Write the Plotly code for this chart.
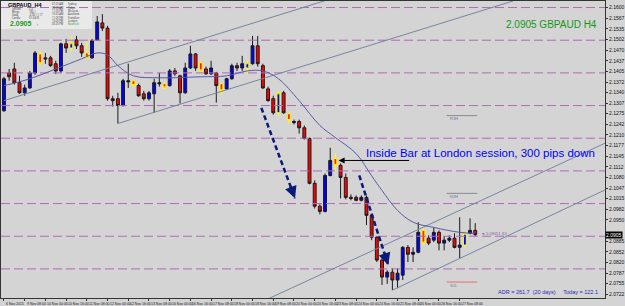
import plotly.graph_objects as go

# ---------------- data ----------------
bar_index = list(range(92))
open_ = [2.1284,2.1400,2.1412,2.1370,2.1339,2.1354,2.1400,2.1458,2.1446,2.1446,
 2.1428,2.1406,2.1489,2.1476,2.1501,2.1483,2.1461,2.1446,2.1501,2.1553,
 2.1537,2.1321,2.1321,2.1300,2.1376,2.1376,2.1361,2.1336,2.1321,2.1336,
 2.1370,2.1367,2.1361,2.1406,2.1391,2.1339,2.1415,2.1458,2.1431,2.1412,
 2.1397,2.1400,2.1367,2.1351,2.1382,2.1422,2.1415,2.1415,2.1428,2.1483,
 2.1422,2.1351,2.1321,2.1278,2.1339,2.1275,2.1248,2.1251,2.1232,2.1199,
 2.1062,2.0992,2.0976,2.1086,2.1138,2.1117,2.1080,2.1019,2.1019,2.1010,
 2.1019,2.0964,2.0897,2.0827,2.0775,2.0790,2.0766,2.0781,2.0866,2.0845,
 2.0851,2.0918,2.0894,2.0888,2.0912,2.0879,2.0888,2.0894,2.0866,2.0873,
 2.0909,2.0918]
high = [2.1388,2.1412,2.1431,2.1391,2.1364,2.1406,2.1467,2.1467,2.1461,2.1452,
 2.1437,2.1492,2.1504,2.1513,2.1513,2.1492,2.1498,2.1504,2.1574,2.1580,
 2.1544,2.1330,2.1339,2.1382,2.1428,2.1379,2.1367,2.1345,2.1345,2.1382,
 2.1400,2.1370,2.1412,2.1415,2.1394,2.1431,2.1483,2.1461,2.1437,2.1419,
 2.1437,2.1403,2.1370,2.1385,2.1428,2.1431,2.1452,2.1437,2.1513,2.1513,
 2.1428,2.1358,2.1330,2.1345,2.1345,2.1278,2.1257,2.1257,2.1239,2.1202,
 2.1071,2.0998,2.1092,2.1171,2.1153,2.1123,2.1092,2.1028,2.1025,2.1025,
 2.1025,2.0967,2.0900,2.0833,2.0796,2.0802,2.0802,2.0870,2.0873,2.0866,
 2.0943,2.0927,2.0903,2.0927,2.0918,2.0900,2.0903,2.0909,2.0958,2.0912,
 2.0955,2.0940]
low = [2.1281,2.1376,2.1364,2.1336,2.1330,2.1351,2.1394,2.1422,2.1428,2.1419,
 2.1397,2.1400,2.1461,2.1467,2.1473,2.1449,2.1443,2.1443,2.1498,2.1528,
 2.1315,2.1297,2.1245,2.1297,2.1354,2.1358,2.1327,2.1315,2.1315,2.1278,
 2.1358,2.1351,2.1358,2.1391,2.1306,2.1336,2.1412,2.1406,2.1397,2.1394,
 2.1394,2.1309,2.1333,2.1348,2.1379,2.1406,2.1406,2.1397,2.1425,2.1419,
 2.1351,2.1312,2.1272,2.1269,2.1275,2.1245,2.1242,2.1214,2.1196,2.1059,
 2.0985,2.0967,2.0973,2.1083,2.1101,2.1016,2.1013,2.1010,2.1007,2.1007,
 2.0934,2.0888,2.0821,2.0751,2.0754,2.0735,2.0741,2.0766,2.0821,2.0821,
 2.0848,2.0873,2.0873,2.0882,2.0857,2.0857,2.0882,2.0863,2.0833,2.0866,
 2.0906,2.0900]
close = [2.1382,2.1388,2.1370,2.1339,2.1354,2.1400,2.1461,2.1428,2.1443,2.1422,
 2.1406,2.1489,2.1476,2.1492,2.1483,2.1461,2.1446,2.1498,2.1556,2.1537,
 2.1321,2.1315,2.1300,2.1376,2.1373,2.1361,2.1330,2.1321,2.1339,2.1370,
 2.1367,2.1354,2.1406,2.1397,2.1339,2.1415,2.1458,2.1415,2.1406,2.1397,
 2.1415,2.1361,2.1345,2.1382,2.1422,2.1415,2.1428,2.1431,2.1483,2.1428,
 2.1354,2.1315,2.1278,2.1339,2.1278,2.1254,2.1251,2.1232,2.1199,2.1062,
 2.0992,2.0976,2.1086,2.1132,2.1117,2.1080,2.1019,2.1016,2.1010,2.1019,
 2.0964,2.0897,2.0827,2.0775,2.0790,2.0766,2.0787,2.0866,2.0845,2.0851,
 2.0912,2.0879,2.0879,2.0912,2.0879,2.0888,2.0894,2.0866,2.0873,2.0909,
 2.0918,2.0905]
inside_bars = [7, 13, 16, 25, 31, 38, 42, 47, 53, 55, 64, 81, 89]

ma_index = [0, 5, 10, 15, 18, 20, 22, 25, 30, 38, 43, 47, 50, 53, 57, 61, 64, 68, 71, 73, 76, 79, 83, 88, 91]
ma_value = [2.1361, 2.1382, 2.1412, 2.1443, 2.1461, 2.1455, 2.1422, 2.1391, 2.1385, 2.1388, 2.1391, 2.1406,
            2.1406, 2.1382, 2.1315, 2.1239, 2.1202, 2.1153, 2.1085, 2.1040, 2.0979, 2.0943, 2.0927, 2.0912, 2.0909]

round_levels = [2.08, 2.09, 2.10, 2.11, 2.12, 2.13, 2.14, 2.15, 2.16]

# trend lines: (start index, start price, end index, end price)
trend_lines = [(0, 2.1315, 62, 2.1621),
               (22, 2.1245, 98.3, 2.1620),
               (51.1, 2.0709, 116.1, 2.1185),
               (75, 2.0735, 116.1, 2.1042)]
# dashed arrows: (start index, start price, end index, end price)
move_arrows = [(49.7, 2.1293, 56.2, 2.1016),
               (68.6, 2.1086, 74.2, 2.0812)]

x_tick_index = list(range(0, 89, 4))
x_tick_text = ["6 Nov 2015", "9 Nov 08:00", "10 Nov 00:00", "10 Nov 16:00", "11 Nov 08:00",
               "12 Nov 00:00", "12 Nov 16:00", "13 Nov 08:00", "16 Nov 00:00", "16 Nov 16:00",
               "17 Nov 08:00", "18 Nov 00:00", "18 Nov 16:00", "19 Nov 08:00", "20 Nov 00:00",
               "20 Nov 16:00", "23 Nov 08:00", "24 Nov 00:00", "24 Nov 16:00", "25 Nov 08:00",
               "26 Nov 00:00", "26 Nov 16:00", "27 Nov 08:00"]
price_ticks = [2.1600, 2.1567, 2.1535, 2.1502, 2.1470, 2.1437, 2.1405, 2.1372, 2.1340, 2.1307,
               2.1275, 2.1242, 2.1210, 2.1177, 2.1145, 2.1112, 2.1080, 2.1047, 2.1015, 2.0982,
               2.0950, 2.0885, 2.0852, 2.0820, 2.0787, 2.0755, 2.0722]
last_price = 2.0905

# ---------------- figure ----------------
W, H = 625, 306
ML, MR, MT, MB = 0, 15, 0, 8
PW, PH = W - ML - MR, H - MT - MB
X0, X1 = -0.574, 116.06
Y0, Y1 = 2.0711, 2.1620


def pp(px, py):
    return px / PW, 1 - py / PH


BG = "#d4d4d4"
fig = go.Figure()

for lv in round_levels:
    fig.add_trace(go.Scatter(x=[X0, X1], y=[lv, lv], mode="lines",
                             line=dict(color="#b06ab8", width=1, dash="9px,4px"),
                             hoverinfo="skip", showlegend=False))

for (a, pa, b, pb) in trend_lines:
    fig.add_trace(go.Scatter(x=[a, b], y=[pa, pb], mode="lines",
                             line=dict(color="#7686a0", width=1), hoverinfo="skip", showlegend=False))

fig.add_trace(go.Scatter(x=ma_index, y=ma_value, mode="lines", line=dict(color="#5a5aa8", width=1, shape="spline"),
                         hoverinfo="skip", showlegend=False))

normal = [i for i in bar_index if i not in inside_bars]


def sub(arr, idx):
    return [arr[i] for i in idx]


fig.add_trace(go.Candlestick(
    x=normal, open=sub(open_, normal), high=sub(high, normal), low=sub(low, normal), close=sub(close, normal),
    increasing=dict(line=dict(color="#1a1a1a", width=1), fillcolor="#0000ff"),
    decreasing=dict(line=dict(color="#1a1a1a", width=1), fillcolor="#ff0000"),
    whiskerwidth=0, showlegend=False, hoverinfo="skip"))
fig.add_trace(go.Candlestick(
    x=inside_bars, open=sub(open_, inside_bars), high=sub(high, inside_bars), low=sub(low, inside_bars),
    close=sub(close, inside_bars),
    increasing=dict(line=dict(color="#ffff00", width=1), fillcolor="#0000ff"),
    decreasing=dict(line=dict(color="#ffff00", width=1), fillcolor="#ff2000"),
    whiskerwidth=0, showlegend=False, hoverinfo="skip"))

for (a, pa, b, pb) in move_arrows:
    fig.add_trace(go.Scatter(x=[a, b], y=[pa, pb], mode="lines",
                             line=dict(color="#0a1a7a", width=2.5, dash="5px,3px"),
                             hoverinfo="skip", showlegend=False))

annotations = []
for (a, pa, b, pb) in move_arrows:
    annotations.append(dict(x=b, y=pb, ax=a + (b - a) * 0.85, ay=pa + (pb - pa) * 0.85, xref="x", yref="y",
                            axref="x", ayref="y", showarrow=True, arrowhead=2, arrowsize=0.8,
                            arrowwidth=3, arrowcolor="#0a1a7a", text=""))

for i, t in zip(x_tick_index, x_tick_text):
    annotations.append(dict(x=i, y=-0.006, xref="x", yref="paper", text=t, showarrow=False,
                            xanchor="left", yanchor="top", xshift=0,
                            font=dict(size=3.5, color="#111111", family="Liberation Sans")))

annotations.append(dict(x=1.0, y=last_price, xref="paper", yref="y", text="%.4f" % last_price, showarrow=False,
                        xanchor="left", yanchor="middle", bgcolor="#000000", borderpad=0,
                        font=dict(size=5, color="#ffffff", family="Liberation Sans")))

x, y = pp(604, 24)
annotations.append(dict(x=x, y=y, xref="paper", yref="paper", text="%.4f GBPAUD H4" % last_price,
                        showarrow=False, xanchor="right", yanchor="middle",
                        font=dict(size=10, color="#13961a", family="Liberation Sans")))

x, y = pp(367, 153)
annotations.append(dict(x=x, y=y, xref="paper", yref="paper", text="Inside Bar at London session, 300 pips down",
                        showarrow=False, xanchor="left", yanchor="middle",
                        font=dict(size=11.5, color="#0000ff", family="Liberation Sans")))
x, y = pp(341, 160)
annotations.append(dict(x=x, y=y, ax=72, ay=0, xref="paper", yref="paper", axref="pixel", ayref="pixel",
                        text="", showarrow=True, arrowhead=2, arrowsize=1.2, arrowwidth=1, arrowcolor="#000000"))

x, y = pp(605, 292)
annotations.append(dict(x=x, y=y, xref="paper", yref="paper",
                        text="ADR = 261.7  (20 days)&nbsp;&nbsp;&nbsp;&nbsp;&nbsp;Today = 122.1",
                        showarrow=False, xanchor="right", yanchor="middle",
                        font=dict(size=5.5, color="#2a2ab8", family="Liberation Sans")))

for (lab, py, col) in [("R1H", 116, "#70709a"), ("R2H", 194, "#70709a"), ("S1L", 283, "#70709a")]:
    x, y = pp(451, py + 2)
    annotations.append(dict(x=x, y=y, xref="paper", yref="paper", text=lab, showarrow=False,
                            xanchor="left", yanchor="middle", font=dict(size=4, color=col, family="Liberation Sans")))
x, y = pp(483, 233)
annotations.append(dict(x=x, y=y, xref="paper", yref="paper", text="&#9668; 2.09051 (D)", showarrow=False,
                        xanchor="left", yanchor="middle", font=dict(size=4, color="#8060a0", family="Liberation Sans")))

info_rows = [("Spread", "2.3"), ("Range", "184.1"), ("Swap", "-0.96 / 1.17"), ("Candle", "01:34:35")]
x, y = pp(5, 4)
annotations.append(dict(x=x, y=y, xref="paper", yref="paper", text="<b>GBPAUD&nbsp;&nbsp;H4</b>", showarrow=False,
                        xanchor="left", yanchor="middle", font=dict(size=5.5, color="#000000", family="Liberation Sans")))
for k, (a, b) in enumerate(info_rows):
    x, y = pp(9, 8.5 + k * 3)
    annotations.append(dict(x=x, y=y, xref="paper", yref="paper", text=a, showarrow=False,
                            xanchor="left", yanchor="middle", font=dict(size=2.6, color="#333333")))
    x, y = pp(26, 8.5 + k * 3)
    annotations.append(dict(x=x, y=y, xref="paper", yref="paper", text=b, showarrow=False,
                            xanchor="left", yanchor="middle", font=dict(size=2.6, color="#333333")))
x, y = pp(7, 22.5)
annotations.append(dict(x=x, y=y, xref="paper", yref="paper", text="<b>%.4f</b>" % last_price, showarrow=False,
                        xanchor="left", yanchor="middle", font=dict(size=7, color="#1a9a1a", family="Liberation Sans")))
x, y = pp(34, 24)
annotations.append(dict(x=x, y=y, xref="paper", yref="paper", text="t", showarrow=False,
                        xanchor="left", yanchor="middle", font=dict(size=3, color="#1a9a1a")))
sessions = [("07:25 AM", "Sydney"), ("09:25 AM", "Tokyo"), ("11:25 PM", "Moscow"), ("10:25 AM", "Auckland"),
            ("11:25 PM", "Frankfurt"), ("10:25 PM", "London"), ("05:25 PM", "NewYork")]
for k, (a, b) in enumerate(sessions):
    yy = 3.5 + k * 3.3
    x, y = pp(49, yy)
    annotations.append(dict(x=x, y=y, xref="paper", yref="paper", text=a, showarrow=False,
                            xanchor="left", yanchor="middle", font=dict(size=2.6, color="#333333")))
    x, y = pp(66, yy)
    annotations.append(dict(x=x, y=y, xref="paper", yref="paper", text=b, showarrow=False,
                            xanchor="left", yanchor="middle",
                            font=dict(size=2.6, color="#1a9a1a" if b == "NewYork" else "#333333")))

shapes = []
x0, y0 = pp(0, 0)
x1, y1 = pp(92, 28)
shapes.append(dict(type="rect", xref="paper", yref="paper", x0=x0, y0=y0, x1=x1, y1=y1,
                   fillcolor="#e9e9e9", line=dict(width=0), layer="below"))
for (py, col) in [(115, "#8a8a8a"), (193, "#8a8a8a"), (282, "#e07070")]:
    xa, ya = pp(450, py)
    xb, _ = pp(481, py)
    shapes.append(dict(type="line", xref="paper", yref="paper", x0=xa, x1=xb, y0=ya, y1=ya,
                       line=dict(color=col, width=1)))

fig.update_layout(
    width=W, height=H, margin=dict(l=ML, r=MR, t=MT, b=MB),
    paper_bgcolor=BG, plot_bgcolor=BG,
    showlegend=False, hovermode=False, boxgap=0.2,
    annotations=annotations, shapes=shapes,
    xaxis=dict(range=[X0, X1], showgrid=False, zeroline=False, rangeslider=dict(visible=False),
               showline=True, linecolor="#333333", linewidth=1, mirror=True,
               tickvals=x_tick_index, ticktext=[""] * len(x_tick_index), ticks="outside", ticklen=2,
               tickcolor="#333333"),
    yaxis=dict(range=[Y0, Y1], side="right", showgrid=False, zeroline=False,
               showline=True, linecolor="#333333", linewidth=1, mirror=True,
               tickvals=price_ticks, ticktext=["%.4f" % v for v in price_ticks], ticks="outside", ticklen=2,
               tickcolor="#333333", tickfont=dict(size=5, color="#111111", family="Liberation Sans")),
)

fig.write_html("out.html")
